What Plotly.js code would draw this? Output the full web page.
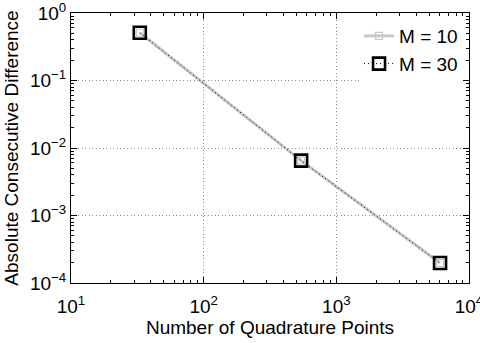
<!DOCTYPE html>
<html><head><meta charset="utf-8">
<script src="https://cdn.plot.ly/plotly-3.0.1.min.js"></script>
<style>html,body{margin:0;padding:0;background:#fff}</style>
</head><body>
<div id="chart" style="width:480px;height:343px"></div>
<script>
var quadPoints = [33, 543, 6050];
var diffM10 = [0.51, 0.0065, 0.000198];
var diffM30 = [0.51, 0.0065, 0.000198];
var seriesNames = ['M = 10', 'M = 30'];
var xTickVals = [10, 100, 1000, 10000];
var xTickText = ['10<sup>1</sup>', '10<sup>2</sup>', '10<sup>3</sup>', '10<sup>4</sup>'];
var yTickVals = [1, 0.1, 0.01, 0.001, 0.0001];
var yTickText = ['10<sup>0</sup>', '10<sup>−1</sup>', '10<sup>−2</sup>', '10<sup>−3</sup>', '10<sup>−4</sup>'];

function minorTicks(lo, hi) {
  var out = [];
  for (var e = lo; e < hi; e++) {
    for (var k = 2; k <= 9; k++) out.push(k * Math.pow(10, e));
  }
  return out;
}

var font = {family: 'Liberation Sans, Arial, sans-serif', size: 19, color: '#000'};

var traces = [
  {x: quadPoints, y: diffM10, name: seriesNames[0], mode: 'lines+markers', type: 'scatter',
   line: {color: '#c8c8c8', width: 3},
   marker: {symbol: 'square-open', size: 7, color: '#c8c8c8', line: {width: 1.2, color: '#c8c8c8'}}},
  {x: quadPoints, y: diffM30, name: seriesNames[1], mode: 'lines+markers', type: 'scatter',
   line: {color: '#000', width: 1, dash: '1px,3px'},
   marker: {symbol: 'square-open', size: 12, color: '#000', line: {width: 2.6, color: '#000'}}}
];

var axisCommon = {
  type: 'log', showline: true, linecolor: '#000', linewidth: 1, mirror: 'ticks',
  ticks: 'inside', ticklen: 6, tickcolor: '#000', tickwidth: 1,
  showgrid: true, gridcolor: '#8a8a8a', griddash: '1px,2.5px', gridwidth: 1,
  zeroline: false, tickfont: font, tickmode: 'array', ticklabeloverflow: 'allow'
};

var layout = {
  width: 480, height: 343,
  margin: {l: 71, r: 11, t: 13, b: 60},
  paper_bgcolor: '#fff', plot_bgcolor: '#fff',
  font: font,
  showlegend: true,
  legend: {x: 0.985, y: 0.985, xanchor: 'right', yanchor: 'top', bgcolor: '#fff',
           borderwidth: 0, font: font, tracegroupgap: 0},
  xaxis: Object.assign({}, axisCommon, {
    range: [1, 4], tickvals: xTickVals, ticktext: xTickText, ticklabelstandoff: 6,
    minor: {tickmode: 'array', tickvals: minorTicks(1, 4), ticks: 'inside', ticklen: 3, tickcolor: '#000', showgrid: false},
    title: {text: 'Number of Quadrature Points', font: font, standoff: 3}
  }),
  yaxis: Object.assign({}, axisCommon, {
    range: [-4, 0], tickvals: yTickVals, ticktext: yTickText,
    minor: {tickmode: 'array', tickvals: minorTicks(-4, 0), ticks: 'inside', ticklen: 3, tickcolor: '#000', showgrid: false},
    title: {text: 'Absolute Consecutive Difference', font: font, standoff: 6}
  })
};

Plotly.newPlot('chart', traces, layout, {displayModeBar: false, staticPlot: true});
</script>
</body></html>
